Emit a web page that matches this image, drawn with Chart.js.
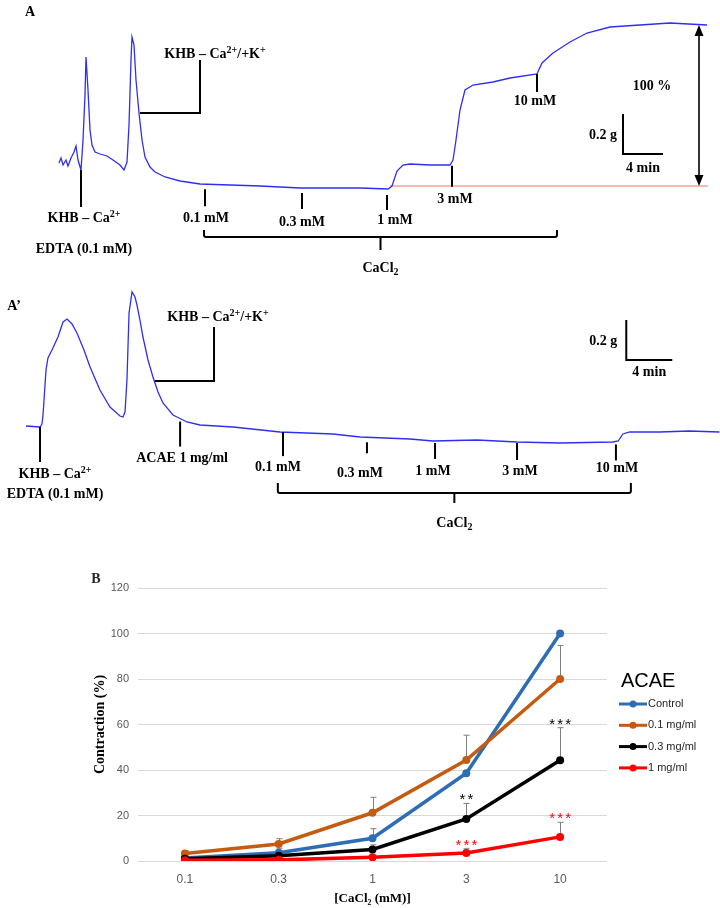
<!DOCTYPE html>
<html>
<head>
<meta charset="utf-8">
<script src="https://cdn.jsdelivr.net/npm/chart.js@4.4.0/dist/chart.umd.min.js"></script>
<style>
  body { margin: 0; background: #fff; }
  .wrap { position: absolute; left: 0; width: 720px; }
  canvas { display: block; }
</style>
</head>
<body>
<div class="wrap" style="top:0;height:280px"><canvas id="traceA" width="720" height="280"></canvas></div>
<div class="wrap" style="top:280px;height:260px"><canvas id="traceA2" width="720" height="260"></canvas></div>
<div class="wrap" style="top:540px;height:368px"><canvas id="doseChart" width="720" height="368"></canvas></div>
<script>
// trace A (control): time in min, tension in g above the pre-CaCl2 baseline
const traceATime = [0.1,0.3,0.5,0.8,1.0,1.3,1.6,1.8,2.0,2.3,2.5,2.7,2.8,3.0,3.2,3.4,3.7,4.2,4.9,5.5,6.2,6.6,6.9,7.1,7.3,7.4,7.6,7.8,8.1,8.4,8.7,9.2,9.7,10.7,12.2,14.2,17.2,20.2,24.2,27.2,30.2,33.0,33.4,33.9,34.5,35.2,37.2,39.2,39.5,39.8,40.2,40.7,41.5,43.5,45.2,47.9,48.4,49.5,51.2,52.9,55.2,58.2,61.2,64.9];
const traceAForce = [0.115,0.14,0.105,0.13,0.10,0.14,0.17,0.20,0.13,0.08,0.23,0.455,0.645,0.48,0.28,0.205,0.17,0.16,0.15,0.13,0.105,0.08,0.12,0.305,0.63,0.745,0.705,0.53,0.365,0.23,0.145,0.095,0.07,0.045,0.025,0.01,0.005,0.0,-0.01,-0.01,-0.01,-0.015,0.0,0.075,0.105,0.11,0.105,0.105,0.13,0.23,0.38,0.48,0.505,0.52,0.54,0.56,0.615,0.665,0.72,0.765,0.795,0.805,0.815,0.805];
const baseATime = [33.2, 65];
const baseAForce = [0, 0];
const markATime = [2.3, 14.7, 24.4, 32.9, 39.4, 47.9];
const markALabel = ['KHB – Ca^{2+}\nEDTA (0.1 mM)', '0.1 mM', '0.3 mM', '1 mM', '3 mM', '10 mM'];

// trace A' (ACAE 1 mg/ml)
const traceA2Time = [0,1.22,1.39,1.48,1.74,1.91,2.26,2.78,3.22,3.57,4.0,4.43,5.04,5.57,6.43,7.3,8.17,8.43,8.61,8.78,8.96,9.22,9.48,9.65,9.91,10.17,10.61,11.04,11.48,11.91,12.78,14.0,15.13,18.0,22.09,26.7,29.04,33.39,35.39,39.22,42.7,46.43,51.04,51.5,51.9,52.5,55.1,57.7,60.3];
const traceA2Force = [0,-0.005,0.01,0.055,0.28,0.34,0.38,0.445,0.52,0.535,0.51,0.465,0.38,0.295,0.18,0.095,0.05,0.045,0.07,0.23,0.565,0.67,0.645,0.605,0.53,0.445,0.33,0.245,0.17,0.115,0.055,0.02,0.005,-0.005,-0.03,-0.04,-0.055,-0.065,-0.075,-0.07,-0.08,-0.085,-0.08,-0.075,-0.04,-0.03,-0.03,-0.025,-0.03];
const markA2Time = [1.22, 13.4, 22.35, 29.65, 35.57, 42.7, 51.3];
const markA2Label = ['KHB – Ca^{2+}\nEDTA (0.1 mM)', 'ACAE 1 mg/ml', '0.1 mM', '0.3 mM', '1 mM', '3 mM', '10 mM'];

// panel B: concentration-response
const concLabels = ['0.1', '0.3', '1', '3', '10'];
const seriesNames = ['Control', '0.1 mg/ml', '0.3 mg/ml', '1 mg/ml'];
const controlVals = [1.3, 3.6, 10, 38.6, 100];
const acae01Vals = [3.3, 7.5, 21.2, 44.4, 80];
const acae03Vals = [1.0, 2.3, 5.1, 18.5, 44.3];
const acae1Vals = [0.3, 0.5, 1.6, 3.5, 10.6];
const controlErr = [0.5, 2.0, 4.2, 0, 0];
const acae01Err = [1.3, 2.3, 6.8, 10.9, 14.7];
const acae03Err = [0.5, 1.0, 2.0, 6.8, 14.3];
const acae1Err = [0.3, 0.4, 0.5, 1.9, 6.4];
const acae03Sig = ['', '', '', '**', '***'];
const acae1Sig = ['', '', '', '***', '***'];

const seriesColors = ['#2e6db4', '#c55a11', '#000000', '#ff0000'];
const SERIF = '"Liberation Serif", "Times New Roman", serif';
const SANS = '"Liberation Sans", Arial, sans-serif';

// text with ^{sup} and _{sub} parts, y is the visual middle
function drawRich(ctx, str, x, y, size, align) {
  const parts = str.split(/(\^\{[^}]*\}|_\{[^}]*\})/).filter(Boolean).map(p => {
    if (p.startsWith('^{')) return { s: p.slice(2, -1), k: 'sup' };
    if (p.startsWith('_{')) return { s: p.slice(2, -1), k: 'sub' };
    return { s: p, k: '' };
  });
  const fontFor = k => 'bold ' + (k ? Math.round(size * 0.68) : size) + 'px ' + SERIF;
  let w = 0;
  parts.forEach(p => { ctx.font = fontFor(p.k); p.w = ctx.measureText(p.s).width; w += p.w; });
  let cx = align === 'center' ? x - w / 2 : align === 'right' ? x - w : x;
  ctx.textAlign = 'left';
  ctx.textBaseline = 'alphabetic';
  parts.forEach(p => {
    ctx.font = fontFor(p.k);
    const dy = p.k === 'sup' ? -size * 0.38 : p.k === 'sub' ? size * 0.22 : 0;
    ctx.fillText(p.s, cx, y + size * 0.35 + dy);
    cx += p.w;
  });
}

function seg(ctx, x1, y1, x2, y2) {
  ctx.beginPath(); ctx.moveTo(x1, y1); ctx.lineTo(x2, y2); ctx.stroke();
}

function forceAt(ts, fs, t) {
  for (let i = 1; i < ts.length; i++) {
    if (t <= ts[i]) {
      const f = (t - ts[i - 1]) / (ts[i] - ts[i - 1]);
      return fs[i - 1] + f * (fs[i] - fs[i - 1]);
    }
  }
  return fs[fs.length - 1];
}

// annotations of a tension trace, all placed through the chart scales
function traceMarks(c) {
  return {
    id: 'traceMarks',
    afterDatasetsDraw(chart) {
      const { ctx, scales: { x, y } } = chart;
      ctx.save();
      ctx.strokeStyle = '#000';
      ctx.fillStyle = '#000';
      ctx.lineWidth = 2;
      ctx.lineCap = 'butt';

      c.times.forEach((t, i) => {
        const px = x.getPixelForValue(t);
        const top = y.getPixelForValue(forceAt(c.traceT, c.traceF, t)) + c.gap[i];
        const bot = top + c.len[i];
        seg(ctx, px, top, px, bot);
        c.labels[i].split('\n').forEach((s, k) => {
          drawRich(ctx, s, px + c.dx[i], bot + c.dy[i] + k * c.lineGap, 14, 'center');
        });
      });

      // KHB - Ca2+/+K+ step
      const kb = c.kBracket;
      const kx0 = x.getPixelForValue(kb.t0), kx1 = x.getPixelForValue(kb.t1);
      const ky = y.getPixelForValue(kb.level), kt = y.getPixelForValue(kb.top);
      ctx.beginPath(); ctx.moveTo(kx0, ky); ctx.lineTo(kx1, ky); ctx.lineTo(kx1, kt); ctx.stroke();
      drawRich(ctx, 'KHB – Ca^{2+}/+K^{+}', kx1 + kb.dx, y.getPixelForValue(kb.label), 14, 'center');

      // CaCl2 brace
      const b = c.brace;
      const bx0 = x.getPixelForValue(b.t0), bx1 = x.getPixelForValue(b.t1), bm = (bx0 + bx1) / 2;
      const by = y.getPixelForValue(b.y), btip = y.getPixelForValue(b.tip);
      ctx.beginPath();
      ctx.moveTo(bx0, btip); ctx.lineTo(bx0, by - 2); ctx.quadraticCurveTo(bx0, by, bx0 + 2, by);
      ctx.lineTo(bx1 - 2, by); ctx.quadraticCurveTo(bx1, by, bx1, by - 2); ctx.lineTo(bx1, btip);
      ctx.stroke();
      seg(ctx, bm, by, bm, y.getPixelForValue(b.mid));
      drawRich(ctx, 'CaCl_{2}', bm, y.getPixelForValue(b.label), 14, 'center');

      // scale bar
      const s = c.bar;
      const sx = x.getPixelForValue(s.t), sx1 = x.getPixelForValue(s.t + 4);
      const sy0 = y.getPixelForValue(s.g), sy1 = y.getPixelForValue(s.g + 0.2);
      ctx.beginPath(); ctx.moveTo(sx, sy1); ctx.lineTo(sx, sy0); ctx.lineTo(sx1, sy0); ctx.stroke();
      drawRich(ctx, '0.2 g', sx - s.gap, (sy0 + sy1) / 2, 14, 'right');
      drawRich(ctx, '4 min', (sx + sx1) / 2, y.getPixelForValue(s.g - s.minDrop), 14, 'center');

      // 100 % double arrow
      if (c.arrow) {
        const a = c.arrow;
        const ax = x.getPixelForValue(a.t), ay0 = y.getPixelForValue(a.g0), ay1 = y.getPixelForValue(a.g1);
        ctx.lineWidth = 1.6;
        seg(ctx, ax, ay1 + 8, ax, ay0 - 8);
        ctx.beginPath(); ctx.moveTo(ax, ay1); ctx.lineTo(ax - 4.5, ay1 + 11); ctx.lineTo(ax + 4.5, ay1 + 11); ctx.fill();
        ctx.beginPath(); ctx.moveTo(ax, ay0); ctx.lineTo(ax - 4.5, ay0 - 11); ctx.lineTo(ax + 4.5, ay0 - 11); ctx.fill();
        drawRich(ctx, '100 %', x.getPixelForValue(a.labelT), y.getPixelForValue(a.labelG), 14, 'center');
      }

      drawRich(ctx, c.panel, c.panelX, c.panelY, 14, 'center');
      ctx.restore();
    }
  };
}

function traceChart(id, datasets, xMax, yMin, yMax, pad, marks) {
  return new Chart(document.getElementById(id), {
    type: 'line',
    data: { datasets: datasets },
    options: {
      responsive: false,
      animation: false,
      layout: { padding: pad },
      plugins: { legend: { display: false }, tooltip: { enabled: false } },
      scales: {
        x: { type: 'linear', display: false, min: 0, max: xMax },
        y: { display: false, min: yMin, max: yMax }
      }
    },
    plugins: [traceMarks(marks)]
  });
}

const toPts = (ts, fs) => ts.map((t, i) => ({ x: t, y: fs[i] }));
const traceStyle = { borderColor: '#2f2ff0', borderWidth: 1.3, pointRadius: 0, tension: 0, clip: false };

traceChart('traceA', [
  Object.assign({ data: toPts(traceATime, traceAForce), order: 0 }, traceStyle),
  { data: toPts(baseATime, baseAForce), borderColor: '#ff7070', borderWidth: 1, pointRadius: 0, order: 1 }
], 65, -0.2, 0.8, { left: 58, right: 12, top: 26, bottom: 54 }, {
  traceT: traceATime, traceF: traceAForce,
  times: markATime, labels: markALabel,
  gap: [0, 5, 5, 6, 4, 0], len: [37, 17, 16, 15, 21, 18],
  dx: [3, 1, 0, 8, 3, -2], dy: [10, 11, 12, 9, 11, 8], lineGap: 31,
  kBracket: { t0: 8.2, t1: 14.2, level: 0.365, top: 0.63, label: 0.665, dx: 15 },
  brace: { t0: 14.6, t1: 49.9, y: -0.255, tip: -0.22, mid: -0.32, label: -0.405 },
  bar: { t: 56.5, g: 0.16, gap: 6, minDrop: 0.065 },
  arrow: { t: 64.1, g0: 0, g1: 0.805, labelT: 59.4, labelG: 0.505 },
  panel: 'A', panelX: 30, panelY: 11
});

traceChart('traceA2', [
  Object.assign({ data: toPts(traceA2Time, traceA2Force) }, traceStyle)
], 60.35, -0.2, 0.7, { left: 26, right: 0, top: 6, bottom: 74 }, {
  traceT: traceA2Time, traceF: traceA2Force,
  times: markA2Time, labels: markA2Label,
  gap: [0, 3, 0, 5, 2, 1, 3], len: [35, 25, 24, 11, 16, 17, 16],
  dx: [15, 2, -5, -7, -2, 3, 1], dy: [11, 11, 10, 19, 11, 10, 7], lineGap: 20,
  kBracket: { t0: 11.2, t1: 16.35, level: 0.225, top: 0.495, label: 0.55, dx: 4 },
  brace: { t0: 21.9, t1: 52.6, y: -0.335, tip: -0.285, mid: -0.385, label: -0.48 },
  bar: { t: 52.2, g: 0.33, gap: 9, minDrop: 0.055 },
  arrow: null,
  panel: 'A’', panelX: 14, panelY: 25
});

// panel B extras: error bars, significance stars, legend
const seriesVals = [controlVals, acae01Vals, acae03Vals, acae1Vals];
const seriesErr = [controlErr, acae01Err, acae03Err, acae1Err];
const seriesSig = [null, null, acae03Sig, acae1Sig];

const doseExtras = {
  id: 'doseExtras',
  beforeDatasetsDraw(chart) {
    const { ctx, scales: { x, y } } = chart;
    ctx.save();
    ctx.strokeStyle = '#7f7f7f';
    ctx.lineWidth = 1;
    seriesVals.forEach((vals, s) => {
      vals.forEach((v, i) => {
        const e = seriesErr[s][i];
        if (!e) return;
        const px = Math.round(x.getPixelForValue(i)) + 0.5;
        const top = y.getPixelForValue(v + e), base = y.getPixelForValue(v);
        seg(ctx, px, base, px, top);
        seg(ctx, px - 3, top, px + 3, top);
      });
    });
    ctx.restore();
  },
  afterDatasetsDraw(chart) {
    const { ctx, scales: { x, y }, chartArea } = chart;
    ctx.save();
    ctx.font = '15px ' + SANS;
    ctx.textAlign = 'center';
    ctx.textBaseline = 'alphabetic';
    seriesSig.forEach((sig, s) => {
      if (!sig) return;
      sig.forEach((t, i) => {
        if (!t) return;
        ctx.fillStyle = seriesColors[s];
        const top = y.getPixelForValue(seriesVals[s][i] + seriesErr[s][i]);
        const cx = x.getPixelForValue(i);
        for (let k = 0; k < t.length; k++) {
          ctx.fillText(t[k], cx + (k - (t.length - 1) / 2) * 8, top + 1);
        }
      });
    });

    // legend
    const lx = chartArea.right + 12;
    ctx.fillStyle = '#000';
    ctx.textAlign = 'left';
    ctx.textBaseline = 'middle';
    ctx.font = '20px ' + SANS;
    ctx.fillText('ACAE', lx + 2, 141);
    chart.data.datasets.forEach((ds, i) => {
      const ly = 164 + i * 21.3;
      ctx.strokeStyle = ds.borderColor;
      ctx.fillStyle = ds.borderColor;
      ctx.lineWidth = 3;
      seg(ctx, lx, ly, lx + 28, ly);
      ctx.beginPath(); ctx.arc(lx + 14, ly, 3.5, 0, Math.PI * 2); ctx.fill();
      ctx.fillStyle = '#262626';
      ctx.font = '11px ' + SANS;
      ctx.fillText(ds.label, lx + 29, ly);
    });

    drawRich(ctx, 'B', 96, 38, 14, 'center');
    ctx.restore();
  }
};

new Chart(document.getElementById('doseChart'), {
  type: 'line',
  data: {
    labels: concLabels,
    datasets: seriesNames.map((name, i) => ({
      label: name,
      data: seriesVals[i],
      borderColor: seriesColors[i],
      backgroundColor: seriesColors[i],
      borderWidth: 3.5,
      pointRadius: 4,
      pointHoverRadius: 4,
      pointBorderWidth: 0,
      tension: 0,
      order: 4 - i
    }))
  },
  options: {
    responsive: false,
    animation: false,
    layout: { padding: { left: 90, right: 113, top: 48, bottom: 0 } },
    plugins: { legend: { display: false }, tooltip: { enabled: false } },
    scales: {
      x: {
        offset: true,
        grid: { display: false, drawTicks: false, offset: true },
        border: { display: false },
        ticks: { color: '#595959', font: { family: SANS, size: 12 }, padding: 11 },
        title: { display: true, text: '[CaCl₂ (mM)]', color: '#000', font: { family: SERIF, weight: 'bold', size: 13 }, padding: { top: 0, bottom: 2 } },
        afterFit(scale) { scale.height = 47; }
      },
      y: {
        min: 0,
        max: 120,
        grid: { color: '#d9d9d9', drawTicks: false },
        border: { display: false },
        ticks: { stepSize: 20, color: '#595959', font: { family: SANS, size: 11 }, padding: 9 },
        title: { display: true, text: 'Contraction (%)', color: '#000', font: { family: SERIF, weight: 'bold', size: 14 }, padding: { top: 2, bottom: 0 } },
        afterFit(scale) { scale.width = 48; }
      }
    }
  },
  plugins: [doseExtras]
});
</script>
</body>
</html>
